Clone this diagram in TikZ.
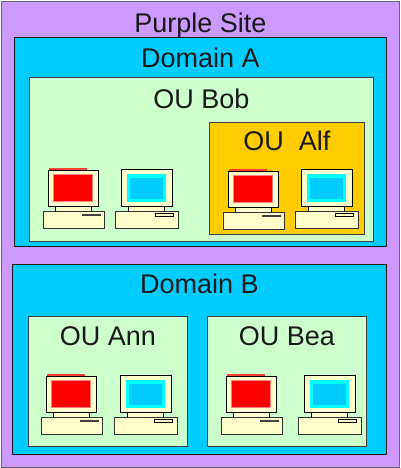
\documentclass[tikz,border=0pt]{standalone}
\usepackage{fontspec}
\setmainfont{Liberation Sans}
\usetikzlibrary{positioning}
\definecolor{sitepurple}{HTML}{CC99FF}
\definecolor{domainblue}{HTML}{00CCFF}
\definecolor{ougreen}{HTML}{CCFFCC}
\definecolor{ouorange}{HTML}{FFCC00}
\definecolor{pccream}{HTML}{FFFFCC}
\definecolor{screencyan}{HTML}{00FFFF}
\definecolor{screenpink}{HTML}{FF8080}
\tikzset{
	basic/.style  = {draw=black!75, line width=0.9pt, anchor=north west, inner sep=0pt, rectangle},
	sitebox/.style   = {basic, fill=sitepurple, draw=black!60},
	domainbox/.style = {basic, fill=domainblue, draw=black!90},
	oubox/.style     = {basic, fill=ougreen},
	ouinner/.style = {basic, fill=ouorange},
	title/.style  = {font=\fontsize{27}{32}\selectfont, inner sep=0pt, text=black!90},
	pcline/.style = {draw=black, line width=0.9pt, fill=pccream},
	pics/redpc/.style = {code={
		\fill[red!75!pccream] (6,-43) rectangle (44,-41);
		\draw[pcline] (5,-41) rectangle (55,-5);
		\draw[pcline] (12,-5) rectangle (48,0);
		\draw[pcline, draw=black!80] (0,0) rectangle (61,17);
		\fill[screenpink] (10,-37) rectangle (50,-9);
		\fill[red] (11,-36) rectangle (49,-10);
		\fill[black!75] (39,3) rectangle (58,5);
	}},
	pics/bluepc/.style = {code={
		\draw[pcline] (6,-42) rectangle (57,-5);
		\draw[pcline] (13,-5) rectangle (49,0);
		\draw[pcline, draw=black!80] (0,0) rectangle (63,17);
		\fill[screencyan] (12,-37) rectangle (51,-9);
		\fill[domainblue] (15,-33) rectangle (48,-12);
		\draw[black, fill=pccream, line width=0.7pt] (40,2) rectangle (58,5);
	}}
}

\begin{document}
\begin{tikzpicture}[x=1pt,y=-1pt]
\useasboundingbox (0,0) rectangle (400,468);

% site and domains
\node[sitebox, minimum width=398pt, minimum height=466pt] (purple) at (1,1) {};
\node[domainbox, minimum width=372pt, minimum height=209pt] (doma) at (14,37) {};
\node[domainbox, minimum width=374pt, minimum height=190pt] (domb) at (12,264) {};

% organisational units
\node[oubox, minimum width=344pt, minimum height=164pt] (oubob) at (29,77) {};
\node[ouinner, minimum width=155pt, minimum height=112pt] (oualf) at (209,122) {};
\node[oubox, minimum width=159pt, minimum height=130pt] (ouann) at (28,316) {};
\node[oubox, minimum width=159pt, minimum height=130pt] (oubea) at (207,316) {};

% titles
\node[title, below=12pt of purple.north] (tsite) {Purple Site};
\node[title, below=11pt of doma.north] (tdoma) {Domain A};
\node[title, below=12pt of oubob.north] (tbob) {OU Bob};
\node[title, below=9pt of oualf.north] (talf) {OU\ \ Alf};
\node[title, below=10pt of domb.north] (tdomb) {Domain B};
\node[title, below=10pt of ouann.north] (tann) {OU Ann};
\node[title, below=10pt of oubea.north] (tbea) {OU Bea};

% computers
\pic at (43,211) {redpc};
\pic at (115,211) {bluepc};
\pic at (223,212) {redpc};
\pic at (295,211) {bluepc};
\pic at (41,417) {redpc};
\pic at (114,417) {bluepc};
\pic at (221,417) {redpc};
\pic at (298,417) {bluepc};

\end{tikzpicture}
\end{document}
